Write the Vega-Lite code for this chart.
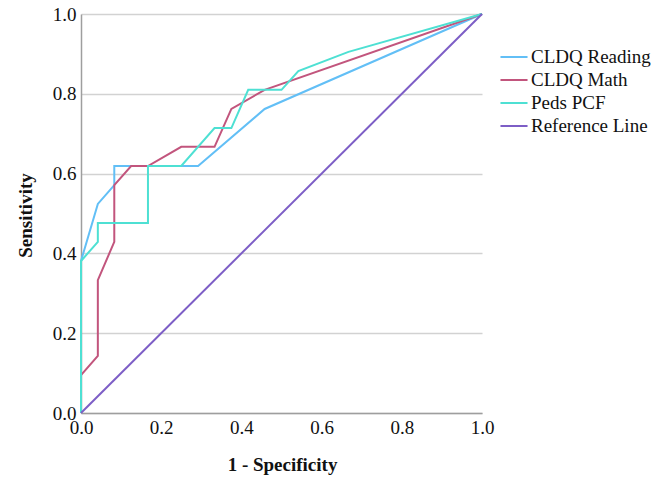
{
  "$schema": "https://vega.github.io/schema/vega-lite/v6.json",
  "width": 401,
  "height": 399,
  "autosize": {"type": "none"},
  "padding": {"left": 81, "top": 14, "right": 187, "bottom": 65},
  "background": "white",
  "config": {
    "view": {"stroke": null},
    "font": "Liberation Serif",
    "text": {"font": "Liberation Serif"},
    "axis": {"labelFont": "Liberation Serif", "titleFont": "Liberation Serif"},
    "legend": {"labelFont": "Liberation Serif", "titleFont": "Liberation Serif"}
  },
  "data": {
    "values": [
      {"series": "CLDQ Reading", "i": 0, "fpr": 0, "tpr": 0},
      {"series": "CLDQ Reading", "i": 1, "fpr": 0, "tpr": 0.381},
      {"series": "CLDQ Reading", "i": 2, "fpr": 0.042, "tpr": 0.524},
      {"series": "CLDQ Reading", "i": 3, "fpr": 0.083, "tpr": 0.571},
      {"series": "CLDQ Reading", "i": 4, "fpr": 0.083, "tpr": 0.619},
      {"series": "CLDQ Reading", "i": 5, "fpr": 0.292, "tpr": 0.619},
      {"series": "CLDQ Reading", "i": 6, "fpr": 0.458, "tpr": 0.762},
      {"series": "CLDQ Reading", "i": 7, "fpr": 1, "tpr": 1},
      {"series": "CLDQ Math", "i": 0, "fpr": 0, "tpr": 0},
      {"series": "CLDQ Math", "i": 1, "fpr": 0, "tpr": 0.095},
      {"series": "CLDQ Math", "i": 2, "fpr": 0.042, "tpr": 0.143},
      {"series": "CLDQ Math", "i": 3, "fpr": 0.042, "tpr": 0.333},
      {"series": "CLDQ Math", "i": 4, "fpr": 0.083, "tpr": 0.429},
      {"series": "CLDQ Math", "i": 5, "fpr": 0.083, "tpr": 0.571},
      {"series": "CLDQ Math", "i": 6, "fpr": 0.125, "tpr": 0.619},
      {"series": "CLDQ Math", "i": 7, "fpr": 0.167, "tpr": 0.619},
      {"series": "CLDQ Math", "i": 8, "fpr": 0.25, "tpr": 0.667},
      {"series": "CLDQ Math", "i": 9, "fpr": 0.333, "tpr": 0.667},
      {"series": "CLDQ Math", "i": 10, "fpr": 0.375, "tpr": 0.762},
      {"series": "CLDQ Math", "i": 11, "fpr": 0.458, "tpr": 0.81},
      {"series": "CLDQ Math", "i": 12, "fpr": 1, "tpr": 1},
      {"series": "Peds PCF", "i": 0, "fpr": 0, "tpr": 0},
      {"series": "Peds PCF", "i": 1, "fpr": 0, "tpr": 0.381},
      {"series": "Peds PCF", "i": 2, "fpr": 0.042, "tpr": 0.429},
      {"series": "Peds PCF", "i": 3, "fpr": 0.042, "tpr": 0.476},
      {"series": "Peds PCF", "i": 4, "fpr": 0.167, "tpr": 0.476},
      {"series": "Peds PCF", "i": 5, "fpr": 0.167, "tpr": 0.619},
      {"series": "Peds PCF", "i": 6, "fpr": 0.25, "tpr": 0.619},
      {"series": "Peds PCF", "i": 7, "fpr": 0.333, "tpr": 0.714},
      {"series": "Peds PCF", "i": 8, "fpr": 0.375, "tpr": 0.714},
      {"series": "Peds PCF", "i": 9, "fpr": 0.417, "tpr": 0.81},
      {"series": "Peds PCF", "i": 10, "fpr": 0.5, "tpr": 0.81},
      {"series": "Peds PCF", "i": 11, "fpr": 0.542, "tpr": 0.857},
      {"series": "Peds PCF", "i": 12, "fpr": 0.667, "tpr": 0.905},
      {"series": "Peds PCF", "i": 13, "fpr": 1, "tpr": 1},
      {"series": "Reference Line", "i": 0, "fpr": 0, "tpr": 0},
      {"series": "Reference Line", "i": 1, "fpr": 1, "tpr": 1}
    ]
  },
  "mark": {"type": "line", "strokeWidth": 2, "interpolate": "linear"},
  "encoding": {
    "x": {
      "field": "fpr",
      "type": "quantitative",
      "scale": {"domain": [0, 1], "nice": false, "zero": true},
      "axis": {
        "title": "1 - Specificity",
        "values": [0, 0.2, 0.4, 0.6, 0.8, 1],
        "format": ".1f",
        "grid": false,
        "ticks": false,
        "domainColor": "#9e9e9e",
        "domainWidth": 1.5,
        "labelFontSize": 19,
        "labelColor": "#111111",
        "labelPadding": 5,
        "labelFlush": false,
        "labelOverlap": false,
        "titleFontSize": 19,
        "titleFontWeight": "bold",
        "titleColor": "#111111",
        "titleX": 201,
        "titleY": 42
      }
    },
    "y": {
      "field": "tpr",
      "type": "quantitative",
      "scale": {"domain": [0, 1], "nice": false, "zero": true},
      "axis": {
        "title": "Sensitivity",
        "values": [0, 0.2, 0.4, 0.6, 0.8, 1],
        "format": ".1f",
        "grid": true,
        "gridColor": "#d2d2d2",
        "gridWidth": 1.5,
        "ticks": false,
        "domainColor": "#9e9e9e",
        "domainWidth": 1.5,
        "labelFontSize": 19,
        "labelColor": "#111111",
        "labelPadding": 5,
        "labelFlush": false,
        "labelOverlap": false,
        "titleFontSize": 19,
        "titleFontWeight": "bold",
        "titleColor": "#111111",
        "titleX": -46,
        "titleY": 201
      }
    },
    "color": {
      "field": "series",
      "type": "nominal",
      "sort": ["CLDQ Reading", "CLDQ Math", "Peds PCF", "Reference Line"],
      "scale": {
        "domain": ["CLDQ Reading", "CLDQ Math", "Peds PCF", "Reference Line"],
        "range": ["#62bff6", "#c2557d", "#4ee0d3", "#7d5ec6"]
      },
      "legend": {
        "title": null,
        "orient": "none",
        "legendX": 421,
        "legendY": 31,
        "symbolType": "M-1.23,0H1.23",
        "symbolSize": 484,
        "symbolStrokeWidth": 2,
        "symbolFillColor": "transparent",
        "labelFontSize": 19,
        "labelColor": "#111111",
        "labelOffset": 5,
        "rowPadding": 1
      }
    },
    "order": {"field": "i", "type": "quantitative"}
  }
}
